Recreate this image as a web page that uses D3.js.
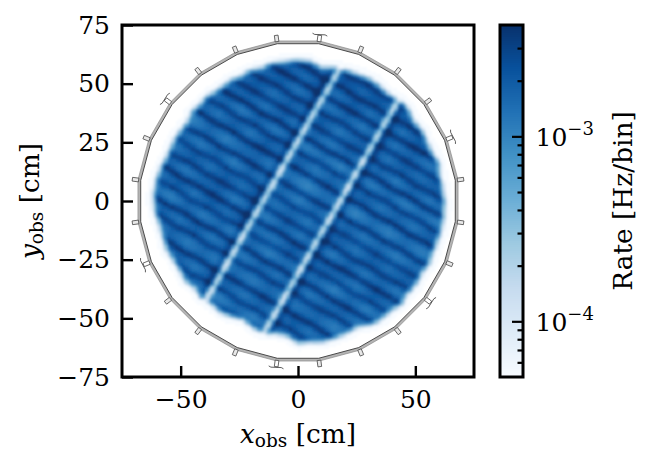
<!DOCTYPE html>
<html><head><meta charset="utf-8">
<script src="https://cdn.jsdelivr.net/npm/d3@7"></script>
<style>
html,body{margin:0;padding:0;background:#fff;overflow:hidden}
text{font-family:"DejaVu Serif",serif;fill:#000}
</style></head><body><svg id="c" width="646" height="452"></svg>
<script>
// ---- values (cm, Hz/bin, degrees)
const axisTicks=[-75,-50,-25,0,25,50,75];
const xLabelTicks=[-50,0,50];
const rateDomain=[5e-5,4e-3];
const blues=["#f7fbff","#deebf7","#c6dbef","#9ecae1","#6baed6","#4292c6","#2171b5","#08519c","#08306b"];
const cbMajor=[1e-4,1e-3];
const cbMinor=[6e-5,7e-5,8e-5,9e-5,2e-4,3e-4,4e-4,5e-4,6e-4,7e-4,8e-4,9e-4,2e-3,3e-3];
// visible edge of the illuminated disc, every 5 degrees from 0
const edgeRadius=[62.5,62,61.5,62.2,61,60.5,61,60,61.2,61,59.8,60.5,60.6,60,59.8,58.8,58,60,60.2,59.8,60,59,59.5,58.8,59.2,58.6,59.3,58.8,59.2,58,58.8,59,59,60,61,61.5,61.6,61,60,59.5,59.8,58.6,58.4,58.8,57.4,58,57.2,57.8,56.6,55.4,57,58,57,57.6,60.5,60,60.8,60.2,60,59,60.8,61.5,61,62,61,61.5,61,62,61.5,62,62.5,62.5];
// strip boundaries (dark lines) across the detector, cm and strength
const darkLines=[-55.5,-49.3,-42.5,-35,-28.6,-22,-15.7,-9.2,-2.5,4,11.6,18.7,25,31.3,38,44.5,51,57.5];
const darkDepth=[.24,.28,.36,.3,.36,.26,.36,.3,.26,.36,.38,.3,.38,.3,.3,.36,.3,.24];
// rate level of each strip between the dark lines (log10)
const stripLevel=[-2.86,-2.88,-2.82,-2.88,-2.84,-2.9,-2.82,-2.86,-2.82,-2.88,-2.92,-2.84,-2.9,-2.86,-2.82,-2.84,-2.8,-2.76,-2.76];
// blotches along each strip (log10 x 100), one row per strip, every 8 cm from -64
const stripBlobs=[
[0,0,0,0,0,-4,6,-6,4,-5,5,-4,3,0,0,0,0],
[0,0,0,4,-5,6,-3,-6,5,-6,6,-3,4,-4,0,0,0],
[0,0,6,-4,5,-6,6,3,-5,4,-5,7,-4,5,-3,0,0],
[0,5,-4,7,-3,5,-6,4,-3,6,-4,2,6,-5,4,0,0],
[3,-5,6,-3,7,-5,3,-6,5,-3,7,-5,3,5,-4,3,0],
[0,5,-5,8,-2,6,-6,7,-4,5,-2,6,-5,7,-3,4,0],
[4,-3,7,-5,6,-2,7,-3,-5,7,-4,5,2,-6,6,-2,3],
[0,6,-4,4,8,-5,4,-6,6,-3,6,-5,7,-3,5,-4,2],
[4,-4,7,-3,6,-2,8,-4,3,-6,6,4,-5,6,-2,5,0],
[2,5,-3,8,-5,7,-3,5,-5,6,-4,7,-2,5,-5,4,2],
[3,-4,9,-2,7,10,-3,4,-6,5,3,-5,6,-3,7,-2,3],
[0,6,-3,7,-4,8,-2,6,-5,4,-6,7,-3,5,-4,6,0],
[0,0,8,-3,10,-2,7,-4,3,-6,5,-3,6,-4,4,-3,0],
[0,0,5,7,-2,8,-5,5,-4,6,-4,5,-5,6,-3,4,0],
[0,0,0,8,-3,6,-2,7,-6,3,7,-4,6,-2,5,0,0],
[0,0,0,4,8,-3,6,-4,5,-5,6,-3,5,-4,0,0,0],
[0,0,0,0,5,-2,7,-4,6,-4,4,-5,6,0,0,0,0],
[0,0,0,0,0,5,-3,8,-2,5,-5,4,0,0,0,0,0],
[0,0,0,0,0,0,6,-4,7,-3,5,0,0,0,0,0,0]];
const gapCentres=[-13,15.4];
const gapFlank=[-15.6,18];
const ringOuter=68.8, ringInner=67.6;
const tabAngles=d3.range(24).map(i=>7.5+15*i);
const bigTabs=[22.5,82.5,142.5,202.5,262.5,322.5];

const svg=d3.select("#c");
const L=122,R=474,T=25,B=377;
const x=d3.scaleLinear().domain([-75,75]).range([L,R]);
const y=d3.scaleLinear().domain([-75,75]).range([B,T]);
const cbT=25,cbB=377,cbL=500,cbR=523;
const cy=d3.scaleLog().domain(rateDomain).range([cbB,cbT]);
const stops=blues.map((_,i)=>i/(blues.length-1));
const frac=d3.scaleLog().domain(rateDomain).range([0,1]).clamp(true);
const ramp=d3.scaleLinear().domain(stops).range(blues).interpolate(d3.interpolateRgb);
const colour=v=>ramp(frac(v));

const lerpArr=(arr,p)=>{const i=Math.max(0,Math.min(arr.length-1.001,p));const k=Math.floor(i);return arr[k]+(arr[k+1]-arr[k])*(i-k);};
function logRate(px,py){
  const r=Math.hypot(px,py);
  let th=Math.atan2(py,px)*180/Math.PI; if(th<0)th+=360;
  const n=edgeRadius.length,st=360/n,k=th/st,i0=Math.floor(k)%n,i1=(i0+1)%n;
  const Re=edgeRadius[i0]+(edgeRadius[i1]-edgeRadius[i0])*(k-Math.floor(k));
  const a=.866*px-.5*py,b=.5*px+.866*py;
  let s=0; while(s<darkLines.length&&b>darkLines[s])s++;
  let v=stripLevel[s]+lerpArr(stripBlobs[s],(a+64)/8)/100*1.5;
  darkLines.forEach((d,i)=>{v+=darkDepth[i]*Math.exp(-Math.pow((b-d)/1.6,2));});
  gapFlank.forEach(g=>{v+=.24*Math.exp(-Math.pow((a-g)/1.7,2));});
  gapCentres.forEach(g=>{v-=1.0*Math.exp(-Math.pow((a-g)/1.4,2));});
  const t=Math.max(0,Math.min(1,(Re-r+3.2)/5.6));
  const sm=t*t*(3-2*t);
  return -4.7+(v+4.7)*sm;
}
const bins=d3.range(-70,70,1);
const cells=d3.cross(bins,bins).filter(d=>logRate(d[0]+.5,d[1]+.5)>-4.699);
const defs=svg.append("defs");
defs.append("filter").attr("id","soft").attr("x","-5%").attr("y","-5%").attr("width","110%").attr("height","110%")
  .append("feGaussianBlur").attr("stdDeviation",.9);
svg.append("g").attr("filter","url(#soft)").attr("shape-rendering","crispEdges")
 .selectAll("rect").data(cells).join("rect")
 .attr("x",d=>x(d[0])).attr("y",d=>y(d[1]+1))
 .attr("width",x(1)-x(0)+.6).attr("height",y(0)-y(1)+.6)
 .attr("fill",d=>colour(Math.pow(10,logRate(d[0]+.5,d[1]+.5))));

// detector ring
const pt=(ang,r)=>[x(r*Math.cos(ang*Math.PI/180)),y(r*Math.sin(ang*Math.PI/180))];
const ringLine=d3.line().curve(d3.curveLinearClosed);
const ring=svg.append("g").attr("fill","none");
ring.append("path").attr("d",ringLine(tabAngles.map(a=>pt(a,(ringOuter+ringInner)/2)))).attr("stroke","#b4b4b4").attr("stroke-width",2.8);
ring.append("path").attr("d",ringLine(tabAngles.map(a=>pt(a,ringOuter)))).attr("stroke","#808080").attr("stroke-width",.6);
ring.append("path").attr("d",ringLine(tabAngles.map(a=>pt(a,ringInner)))).attr("stroke","#3a3a3a").attr("stroke-width",.9);
// tabs
tabAngles.forEach(a=>{
  const big=bigTabs.includes(a);
  const r0=ringOuter-.3,r1=ringOuter+2.4;
  const dw=.8;
  const at=(rr,off)=>{const rad=a*Math.PI/180;
    const px=rr*Math.cos(rad)-off*Math.sin(rad),py=rr*Math.sin(rad)+off*Math.cos(rad);return [x(px),y(py)];};
  ring.append("path").attr("d",d3.line()([at(r0,-dw),at(r1,-dw),at(r1,dw),at(r0,dw)])+"Z")
    .attr("fill",big?"#fff":"#e8e8e8").attr("stroke","#444").attr("stroke-width",.8);
  if(big){
    ring.append("path").attr("d",d3.line()([at(r1+.1,-3.2),at(r1+.5,-2.2),at(r1+.1,2.2),at(r1+.5,3.2)])).attr("stroke","#333").attr("stroke-width",.8);
  }
});

// main axes
const fmt=d=>String(d).replace("-","\u2212");
const gx=svg.append("g").attr("transform",`translate(0,${B})`).call(d3.axisBottom(x).tickValues(xLabelTicks).tickSize(-11).tickFormat(fmt));
const gy=svg.append("g").attr("transform",`translate(${L},0)`).call(d3.axisLeft(y).tickValues(axisTicks).tickSize(-11).tickPadding(12).tickFormat(fmt));
[gx,gy].forEach(g=>{g.select(".domain").remove();g.selectAll("line").attr("stroke","#000").attr("stroke-width",2.4);
  g.selectAll("text").attr("font-size",25).style("font-family","DejaVu Serif");});
gx.selectAll("text").attr("y",11).attr("dy","0.8em");
svg.append("rect").attr("x",L).attr("y",T).attr("width",R-L).attr("height",B-T).attr("fill","none").attr("stroke","#000").attr("stroke-width",3);

// labels
const xl=svg.append("text").attr("x",298).attr("y",443).attr("text-anchor","middle").attr("font-size",26.4);
xl.append("tspan").attr("font-style","italic").text("x");
xl.append("tspan").attr("font-size",18.5).attr("dy",4).text("obs");
xl.append("tspan").attr("dy",-4).text(" [cm]");
const yl=svg.append("text").attr("transform","translate(39,201) rotate(-90)").attr("text-anchor","middle").attr("font-size",26.4);
yl.append("tspan").attr("font-style","italic").text("y");
yl.append("tspan").attr("font-size",18.5).attr("dy",4).text("obs");
yl.append("tspan").attr("dy",-4).text(" [cm]");

// colour bar
const cbSteps=d3.range(0,176).map(i=>i/176);
const logScale=d3.scaleLinear().domain([0,1]).range(rateDomain.map(Math.log10));
svg.append("g").attr("shape-rendering","crispEdges").selectAll("rect").data(cbSteps).join("rect")
 .attr("x",cbL).attr("width",cbR-cbL)
 .attr("y",d=>cy(Math.pow(10,logScale(d)))-2.5).attr("height",2.7)
 .attr("fill",d=>ramp(d));
const gc=svg.append("g").attr("transform",`translate(${cbR},0)`).call(d3.axisRight(cy).tickValues(cbMajor).tickSize(-11).tickFormat(""));
const gm=svg.append("g").attr("transform",`translate(${cbR},0)`).call(d3.axisRight(cy).tickValues(cbMinor).tickSize(-5.5).tickFormat(""));
[gc,gm].forEach(g=>{g.select(".domain").remove();g.selectAll("line").attr("stroke","#000").attr("stroke-width",2.2);});
svg.append("rect").attr("x",cbL).attr("y",T).attr("width",cbR-cbL).attr("height",B-T).attr("fill","none").attr("stroke","#000").attr("stroke-width",3);
const expo=["\u22124","\u22123"];
cbMajor.forEach((v,i)=>{
  const t=svg.append("text").attr("x",535.5).attr("y",cy(v)+10).attr("font-size",25);
  t.append("tspan").text("10");
  t.append("tspan").attr("font-size",18).attr("dy",-11).text(expo[i]);
});
svg.append("text").attr("transform","translate(632,201) rotate(-90)").attr("text-anchor","middle").attr("font-size",26.4).text("Rate [Hz/bin]");
</script></body></html>
